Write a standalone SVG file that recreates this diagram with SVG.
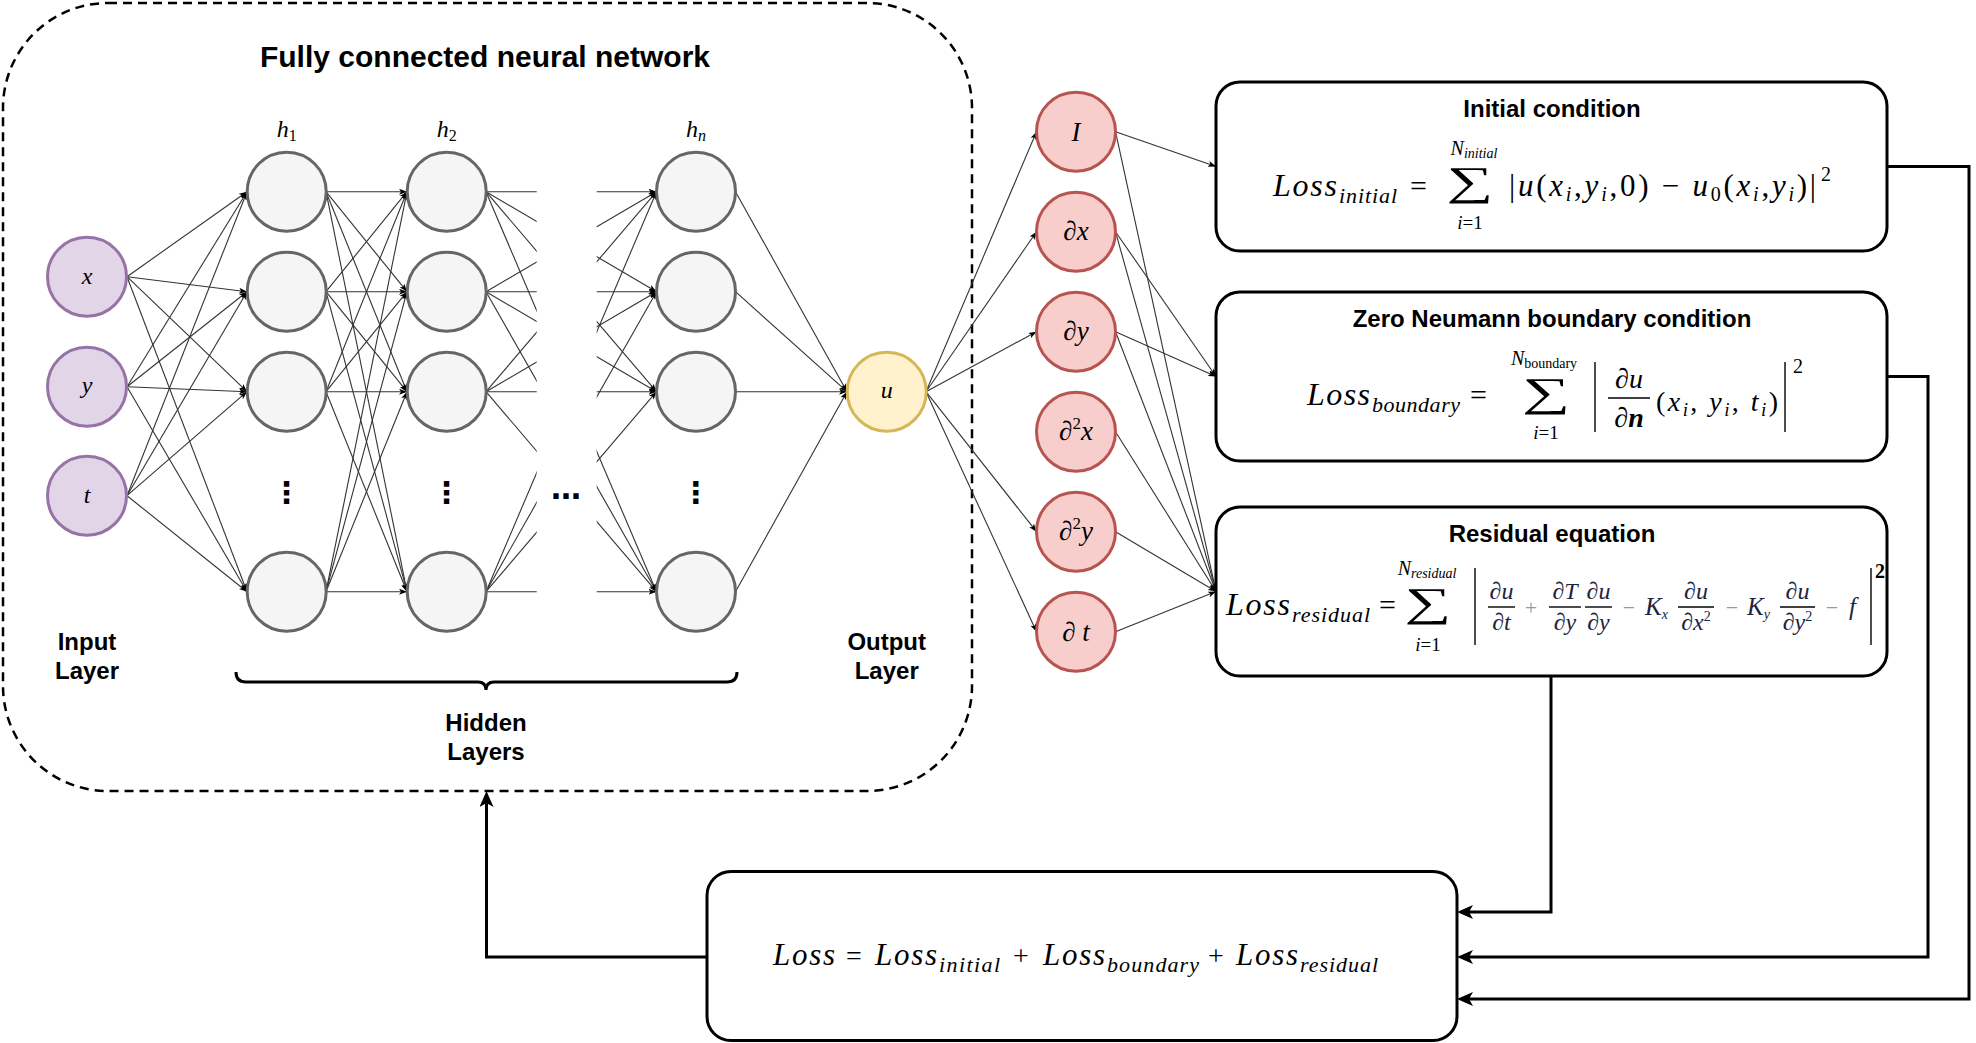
<svg xmlns="http://www.w3.org/2000/svg" width="1976" height="1043" viewBox="0 0 1976 1043">
<style>
.n-in{fill:#e1d5e7;stroke:#9673a6;stroke-width:3}
.n-h{fill:#f5f5f5;stroke:#666666;stroke-width:3}
.n-out{fill:#fff2cc;stroke:#d6b656;stroke-width:3}
.n-d{fill:#f8cecc;stroke:#b85450;stroke-width:3}
.box{fill:#ffffff;stroke:#000000;stroke-width:3}
.e{fill:none;stroke:#333333;stroke-width:1.1;marker-end:url(#a)}
.c{fill:none;stroke:#000000;stroke-width:3;marker-end:url(#A)}
.bar{stroke:#000000;stroke-width:1.4}
.t{font-family:"Liberation Sans",Arial,sans-serif;font-weight:bold;font-size:24px;text-anchor:middle;fill:#000000}
.m{font-family:"Liberation Serif","Times New Roman",serif;font-style:italic;fill:#000000}
.up{font-style:normal}
.mid{text-anchor:middle}
.sum{font-family:"Liberation Serif","Times New Roman",serif;font-size:41px;text-anchor:middle;fill:#000000}
.dots{font-family:"DejaVu Sans",sans-serif;font-weight:bold;font-size:30px;text-anchor:middle;fill:#000000}
.op{fill:#999999}
.nv{fill:#1c2440}
</style>
<defs>
<marker id="a" viewBox="0 0 8 6" refX="8" refY="3" markerWidth="8" markerHeight="6" markerUnits="userSpaceOnUse" orient="auto"><path d="M8,3 L0,0 L2,3 L0,6 Z" fill="#000000"/></marker>
<marker id="A" viewBox="0 0 16 14" refX="8" refY="7" markerWidth="16" markerHeight="14" markerUnits="userSpaceOnUse" orient="auto"><path d="M16,7 L0,0 L4,7 L0,14 Z" fill="#000000"/></marker>
<clipPath id="gap"><rect x="0" y="0" width="536.7" height="1043"/><rect x="596.7" y="0" width="1379.3" height="1043"/></clipPath>
</defs>
<rect width="1976" height="1043" fill="#ffffff"/>

<g id="nn-frame">
<rect x="3" y="3" width="969" height="788" rx="105" fill="none" stroke="#000000" stroke-width="2.5" stroke-dasharray="9 6"/>
<text class="t" x="485" y="67" style="font-size:30px">Fully connected neural network</text>
</g>

<g id="connectors">
<g id="in-h1">
<path class="e" d="M127 276.7L247 191.7"/><path class="e" d="M127 276.7L247 291.7"/><path class="e" d="M127 276.7L247 391.7"/><path class="e" d="M127 276.7L247 591.7"/>
<path class="e" d="M127 386.7L247 191.7"/><path class="e" d="M127 386.7L247 291.7"/><path class="e" d="M127 386.7L247 391.7"/><path class="e" d="M127 386.7L247 591.7"/>
<path class="e" d="M127 495.7L247 191.7"/><path class="e" d="M127 495.7L247 291.7"/><path class="e" d="M127 495.7L247 391.7"/><path class="e" d="M127 495.7L247 591.7"/>
</g>
<g id="h1-h2">
<path class="e" d="M326 191.7L407 191.7"/><path class="e" d="M326 191.7L407 291.7"/><path class="e" d="M326 191.7L407 391.7"/><path class="e" d="M326 191.7L407 591.7"/>
<path class="e" d="M326 291.7L407 191.7"/><path class="e" d="M326 291.7L407 291.7"/><path class="e" d="M326 291.7L407 391.7"/><path class="e" d="M326 291.7L407 591.7"/>
<path class="e" d="M326 391.7L407 191.7"/><path class="e" d="M326 391.7L407 291.7"/><path class="e" d="M326 391.7L407 391.7"/><path class="e" d="M326 391.7L407 591.7"/>
<path class="e" d="M326 591.7L407 191.7"/><path class="e" d="M326 591.7L407 291.7"/><path class="e" d="M326 591.7L407 391.7"/><path class="e" d="M326 591.7L407 591.7"/>
</g>
<g id="h2-hn" clip-path="url(#gap)">
<path class="e" d="M486 191.7L656.5 191.7"/><path class="e" d="M486 191.7L656.5 291.7"/><path class="e" d="M486 191.7L656.5 391.7"/><path class="e" d="M486 191.7L656.5 591.7"/>
<path class="e" d="M486 291.7L656.5 191.7"/><path class="e" d="M486 291.7L656.5 291.7"/><path class="e" d="M486 291.7L656.5 391.7"/><path class="e" d="M486 291.7L656.5 591.7"/>
<path class="e" d="M486 391.7L656.5 191.7"/><path class="e" d="M486 391.7L656.5 291.7"/><path class="e" d="M486 391.7L656.5 391.7"/><path class="e" d="M486 391.7L656.5 591.7"/>
<path class="e" d="M486 591.7L656.5 191.7"/><path class="e" d="M486 591.7L656.5 291.7"/><path class="e" d="M486 591.7L656.5 391.7"/><path class="e" d="M486 591.7L656.5 591.7"/>
</g>
<g id="hn-u">
<path class="e" d="M735.5 191.7L847 391.7"/><path class="e" d="M735.5 291.7L847 391.7"/><path class="e" d="M735.5 391.7L847 391.7"/><path class="e" d="M735.5 591.7L847 391.7"/>
</g>
<g id="u-d">
<path class="e" d="M926 391.7L1036.5 131.7"/><path class="e" d="M926 391.7L1036.5 231.7"/><path class="e" d="M926 391.7L1036.5 331.7"/><path class="e" d="M926 391.7L1036.5 531.7"/><path class="e" d="M926 391.7L1036.5 631.7"/>
</g>
<g id="d-box">
<path class="e" d="M1115.5 131.7L1216 166.5"/><path class="e" d="M1115.5 131.7L1216 591.5"/>
<path class="e" d="M1115.5 231.7L1216 376.5"/><path class="e" d="M1115.5 231.7L1216 591.5"/>
<path class="e" d="M1115.5 331.7L1216 376.5"/><path class="e" d="M1115.5 331.7L1216 591.5"/>
<path class="e" d="M1115.5 431.7L1216 591.5"/><path class="e" d="M1115.5 531.7L1216 591.5"/><path class="e" d="M1115.5 631.7L1216 591.5"/>
</g>
<g id="loss-links">
<path class="c" d="M1551 676.5V912H1465"/>
<path class="c" d="M1887 376.5H1928V957H1465"/>
<path class="c" d="M1887 166.5H1969V999H1465"/>
<path class="c" d="M707 957H486.5V799"/>
</g>
</g>

<g id="input-layer">
<g id="in-x"><circle class="n-in" cx="87" cy="276.7" r="39.5"/><text class="m mid" x="87" y="284" font-size="24">x</text></g>
<g id="in-y"><circle class="n-in" cx="87" cy="386.7" r="39.5"/><text class="m mid" x="87" y="393" font-size="24">y</text></g>
<g id="in-t"><circle class="n-in" cx="87" cy="495.7" r="39.5"/><text class="m mid" x="87" y="503" font-size="24">t</text></g>
<text class="t" x="87" y="650">Input</text>
<text class="t" x="87" y="679">Layer</text>
</g>

<g id="hidden-1">
<text class="m mid" x="286.7" y="137" font-size="24">h<tspan class="up" font-size="16" dy="4">1</tspan></text>
<circle id="h1-1" class="n-h" cx="286.7" cy="191.7" r="39.5"/>
<circle id="h1-2" class="n-h" cx="286.7" cy="291.7" r="39.5"/>
<circle id="h1-3" class="n-h" cx="286.7" cy="391.7" r="39.5"/>
<circle id="h1-4" class="n-h" cx="286.7" cy="591.7" r="39.5"/>
<text class="dots" x="286.7" y="503">⋮</text>
</g>
<g id="hidden-2">
<text class="m mid" x="446.7" y="137" font-size="24">h<tspan class="up" font-size="16" dy="4">2</tspan></text>
<circle id="h2-1" class="n-h" cx="446.7" cy="191.7" r="39.5"/>
<circle id="h2-2" class="n-h" cx="446.7" cy="291.7" r="39.5"/>
<circle id="h2-3" class="n-h" cx="446.7" cy="391.7" r="39.5"/>
<circle id="h2-4" class="n-h" cx="446.7" cy="591.7" r="39.5"/>
<text class="dots" x="446.7" y="503">⋮</text>
</g>
<text id="hidden-gap" class="dots" x="566" y="499">…</text>
<g id="hidden-n">
<text class="m mid" x="696" y="137" font-size="24">h<tspan font-size="16" dy="4">n</tspan></text>
<circle id="hn-1" class="n-h" cx="696" cy="191.7" r="39.5"/>
<circle id="hn-2" class="n-h" cx="696" cy="291.7" r="39.5"/>
<circle id="hn-3" class="n-h" cx="696" cy="391.7" r="39.5"/>
<circle id="hn-4" class="n-h" cx="696" cy="591.7" r="39.5"/>
<text class="dots" x="696" y="503">⋮</text>
</g>
<g id="hidden-label">
<path d="M236 672Q236 682 246 682H478Q486 682 486 690Q486 682 494 682H727Q737 682 737 672" fill="none" stroke="#000000" stroke-width="3"/>
<text class="t" x="486" y="731">Hidden</text>
<text class="t" x="486" y="760">Layers</text>
</g>

<g id="output-layer">
<g id="out-u"><circle class="n-out" cx="886.7" cy="391.7" r="39.5"/><text class="m mid" x="886.7" y="398" font-size="24">u</text></g>
<text class="t" x="886.7" y="650">Output</text>
<text class="t" x="886.7" y="679">Layer</text>
</g>

<g id="derivatives">
<g id="d-I"><circle class="n-d" cx="1076" cy="131.7" r="39.5"/><text class="m mid" x="1076" y="141" font-size="27">I</text></g>
<g id="d-x"><circle class="n-d" cx="1076" cy="231.7" r="39.5"/><text class="m mid" x="1076" y="240" font-size="27">∂x</text></g>
<g id="d-y"><circle class="n-d" cx="1076" cy="331.7" r="39.5"/><text class="m mid" x="1076" y="340" font-size="27">∂y</text></g>
<g id="d-xx"><circle class="n-d" cx="1076" cy="431.7" r="39.5"/><text class="m mid" x="1076" y="440" font-size="27">∂<tspan class="up" font-size="17" dy="-11">2</tspan><tspan dy="11">x</tspan></text></g>
<g id="d-yy"><circle class="n-d" cx="1076" cy="531.7" r="39.5"/><text class="m mid" x="1076" y="540" font-size="27">∂<tspan class="up" font-size="17" dy="-11">2</tspan><tspan dy="11">y</tspan></text></g>
<g id="d-t"><circle class="n-d" cx="1076" cy="631.7" r="39.5"/><text class="m mid" x="1076" y="641" font-size="27">∂ t</text></g>
</g>

<g id="box-initial">
<rect class="box" x="1216" y="82" width="671" height="169" rx="24"/>
<text class="t" x="1552" y="117">Initial condition</text>
<text class="m" x="1273" y="196" font-size="32" textLength="64">Loss</text>
<text class="m" x="1339" y="203" font-size="22" textLength="58">initial</text>
<text class="m up" x="1410" y="196" font-size="30">=</text>
<text class="m mid" x="1474" y="155" font-size="20">N<tspan font-size="14" dy="3">initial</tspan></text>
<text class="sum" transform="translate(1470 195) scale(1.6 1)">∑</text>
<text class="m mid" x="1470" y="229" font-size="19">i<tspan class="up">=1</tspan></text>
<text class="m" x="1509" y="196" font-size="31" textLength="307"><tspan class="up">|</tspan>u<tspan class="up">(</tspan>x<tspan font-size="20" dy="5">i</tspan><tspan class="up" dy="-5">,</tspan>y<tspan font-size="20" dy="5">i</tspan><tspan class="up" dy="-5">,0) − </tspan>u<tspan class="up" font-size="20" dy="5">0</tspan><tspan class="up" dy="-5">(</tspan>x<tspan font-size="20" dy="5">i</tspan><tspan class="up" dy="-5">,</tspan>y<tspan font-size="20" dy="5">i</tspan><tspan class="up" dy="-5">)|</tspan></text>
<text class="m up" x="1821" y="181" font-size="20">2</text>
</g>

<g id="box-boundary">
<rect class="box" x="1216" y="292" width="671" height="169" rx="24"/>
<text class="t" x="1552" y="327">Zero Neumann boundary condition</text>
<text class="m" x="1307" y="405" font-size="32" textLength="63">Loss</text>
<text class="m" x="1372" y="412" font-size="22" textLength="88">boundary</text>
<text class="m up" x="1470" y="405" font-size="30">=</text>
<text class="m mid" x="1544" y="365" font-size="20">N<tspan class="up" font-size="14" dy="3">boundary</tspan></text>
<text class="sum" transform="translate(1546 406) scale(1.65 1)">∑</text>
<text class="m mid" x="1546" y="439" font-size="19">i<tspan class="up">=1</tspan></text>
<line class="bar" x1="1595" y1="362" x2="1595" y2="432"/>
<text class="m mid" x="1629" y="388" font-size="28">∂u</text>
<line class="bar" x1="1608" y1="398" x2="1650" y2="398"/>
<text class="m mid" x="1629" y="427" font-size="28">∂<tspan font-weight="bold">n</tspan></text>
<text class="m" x="1656" y="411" font-size="28" textLength="122"><tspan class="up">(</tspan>x<tspan font-size="19" dy="5">i</tspan><tspan class="up" dy="-5">, </tspan>y<tspan font-size="19" dy="5">i</tspan><tspan class="up" dy="-5">, </tspan>t<tspan font-size="19" dy="5">i</tspan><tspan class="up" dy="-5">)</tspan></text>
<line class="bar" x1="1785" y1="362" x2="1785" y2="432"/>
<text class="m up" x="1793" y="373" font-size="20">2</text>
</g>

<g id="box-residual">
<rect class="box" x="1216" y="507" width="671" height="169" rx="24"/>
<text class="t" x="1552" y="542">Residual equation</text>
<text class="m" x="1226" y="615" font-size="32" textLength="64">Loss</text>
<text class="m" x="1292" y="622" font-size="22" textLength="78">residual</text>
<text class="m up" x="1379" y="615" font-size="30">=</text>
<text class="m mid" x="1427" y="575" font-size="20">N<tspan font-size="14" dy="3">residual</tspan></text>
<text class="sum" transform="translate(1428 616) scale(1.6 1)">∑</text>
<text class="m mid" x="1428" y="651" font-size="19">i<tspan class="up">=1</tspan></text>
<line class="bar" x1="1475" y1="568" x2="1475" y2="645"/>
<g>
<text class="m mid nv" x="1501.5" y="599" font-size="24">∂u</text>
<line class="bar" x1="1488" y1="607" x2="1515" y2="607"/>
<text class="m mid nv" x="1501.5" y="630" font-size="24">∂t</text>
<text class="m up mid op" x="1531" y="615" font-size="22">+</text>
<text class="m mid nv" x="1565" y="599" font-size="24">∂T</text>
<line class="bar" x1="1549" y1="607" x2="1581" y2="607"/>
<text class="m mid nv" x="1565" y="630" font-size="24">∂y</text>
<text class="m mid nv" x="1598.5" y="599" font-size="24">∂u</text>
<line class="bar" x1="1585" y1="607" x2="1612" y2="607"/>
<text class="m mid nv" x="1598.5" y="630" font-size="24">∂y</text>
<text class="m up mid op" x="1629" y="615" font-size="22">−</text>
<text class="m nv" x="1645" y="615" font-size="25">K<tspan font-size="14" dy="4">x</tspan></text>
<text class="m mid nv" x="1696" y="599" font-size="24">∂u</text>
<line class="bar" x1="1678" y1="607" x2="1714" y2="607"/>
<text class="m mid nv" x="1696" y="630" font-size="24">∂x<tspan class="up" font-size="14" dy="-9">2</tspan></text>
<text class="m up mid op" x="1732" y="615" font-size="22">−</text>
<text class="m nv" x="1747" y="615" font-size="25">K<tspan font-size="14" dy="4">y</tspan></text>
<text class="m mid nv" x="1797.5" y="599" font-size="24">∂u</text>
<line class="bar" x1="1780" y1="607" x2="1815" y2="607"/>
<text class="m mid nv" x="1797.5" y="630" font-size="24">∂y<tspan class="up" font-size="14" dy="-9">2</tspan></text>
<text class="m up mid op" x="1832" y="615" font-size="22">−</text>
<text class="m nv" x="1849" y="615" font-size="25">f</text>
</g>
<line class="bar" x1="1871" y1="568" x2="1871" y2="645"/>
<text class="m up" x="1875" y="578" font-size="20" font-weight="bold">2</text>
</g>

<g id="box-total">
<rect class="box" x="707" y="871.5" width="750" height="169" rx="24"/>
<text class="m" x="773" y="965" font-size="31" textLength="62">Loss</text>
<text class="m up" x="846" y="965" font-size="28">=</text>
<text class="m" x="875" y="965" font-size="31" textLength="62">Loss</text>
<text class="m" x="939" y="972" font-size="22" textLength="61">initial</text>
<text class="m up" x="1013" y="965" font-size="28">+</text>
<text class="m" x="1043" y="965" font-size="31" textLength="62">Loss</text>
<text class="m" x="1107" y="972" font-size="22" textLength="92">boundary</text>
<text class="m up" x="1208" y="965" font-size="28">+</text>
<text class="m" x="1236" y="965" font-size="31" textLength="62">Loss</text>
<text class="m" x="1300" y="972" font-size="22" textLength="78">residual</text>
</g>
</svg>
